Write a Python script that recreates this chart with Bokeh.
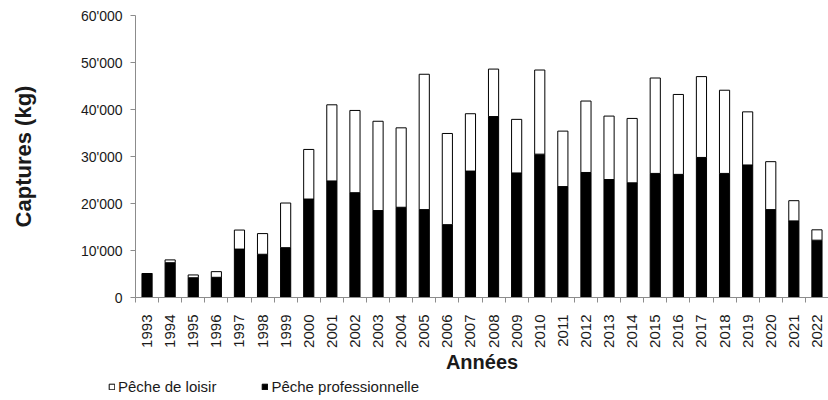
from bokeh.plotting import figure
from bokeh.layouts import column, row
from bokeh.models import (ColumnDataSource, Range1d, FixedTicker, CustomJSTickFormatter,
                          Legend, LegendItem)
from bokeh.embed import file_html
from bokeh.resources import INLINE
import math

years = [str(y) for y in range(1993, 2023)]
peche_pro = [5100, 7400, 4200, 4300, 10300, 9200, 10600, 20950, 24800, 22300,
             18500, 19200, 18700, 15500, 26900, 38500, 26500, 30500, 23600, 26600,
             25100, 24400, 26400, 26200, 29800, 26400, 28200, 18700, 16300, 12200]
peche_loisir = [0, 600, 600, 1200, 4050, 4400, 9500, 10550, 16200, 17500,
                19000, 16900, 28800, 19400, 12200, 10100, 11400, 17900, 11800, 15200,
                13500, 13700, 20300, 17000, 17200, 17700, 11300, 10200, 4300, 2200]
y_ticks = [0, 10000, 20000, 30000, 40000, 50000, 60000]
series_labels = ["Pêche de loisir", "Pêche professionnelle"]

n = len(years)
xpos = [i + 0.5 for i in range(n)]          # category centres
bounds = [float(i) for i in range(n + 1)]    # category boundaries (tick marks)

src = ColumnDataSource(dict(x=xpos, year=years, pro=peche_pro, loisir=peche_loisir))

FONT = "Liberation Sans"
TXT = "#1a1a1a"
AX = "#8c8c8c"
W = 828
H_MAIN = 375
H_LEG = 25

p = figure(width=W, height=H_MAIN, x_range=Range1d(0, n), y_range=Range1d(0, 60000),
           output_backend="svg", toolbar_location=None,
           min_border_left=135, min_border_top=15, min_border_right=0, min_border_bottom=75)
p.grid.visible = False
p.outline_line_color = None

rs = p.vbar_stack(["pro", "loisir"], x="x", width=0.44, source=src,
                  fill_color=["black", "white"], line_color="black", line_width=1)

# y axis
ya = p.yaxis[0]
ya.ticker = FixedTicker(ticks=y_ticks)
ya.formatter = CustomJSTickFormatter(code="""
const s = Math.round(tick).toString();
return s.replace(/\\B(?=(\\d{3})+(?!\\d))/g, "'");
""")
ya.axis_line_color = AX
ya.major_tick_line_color = AX
ya.major_tick_in = 0
ya.major_tick_out = 5
ya.minor_tick_line_color = None
ya.major_label_text_font = FONT
ya.major_label_text_font_size = "14px"
ya.major_label_text_color = TXT
ya.major_label_standoff = 8
ya.axis_label = "Captures (kg)"
ya.axis_label_text_font = FONT
ya.axis_label_text_font_size = "22px"
ya.axis_label_text_font_style = "bold"
ya.axis_label_text_color = TXT
ya.axis_label_standoff = 42

# x axis: labels at centres, tick marks at boundaries (minor ticks)
xa = p.xaxis[0]
xa.ticker = FixedTicker(ticks=xpos, minor_ticks=bounds)
xa.major_label_overrides = {x: y for x, y in zip(xpos, years)}
xa.axis_line_color = AX
xa.major_tick_line_color = None
xa.major_tick_in = 0
xa.major_tick_out = 0
xa.minor_tick_line_color = AX
xa.minor_tick_in = 0
xa.minor_tick_out = 5
xa.major_label_orientation = math.pi / 2
xa.major_label_text_font = FONT
xa.major_label_text_font_size = "15px"
xa.major_label_text_color = TXT
xa.major_label_standoff = 12
xa.axis_label = "Années"
xa.axis_label_text_font = FONT
xa.axis_label_text_font_size = "20px"
xa.axis_label_text_font_style = "bold"
xa.axis_label_text_color = TXT
xa.axis_label_standoff = 0

# legend strip below the chart
pl = figure(width=W, height=H_LEG, x_range=Range1d(0, 1), y_range=Range1d(0, 1),
            output_backend="svg", toolbar_location=None,
            x_axis_location=None, y_axis_location=None,
            min_border=0, min_border_left=0, min_border_right=0,
            min_border_top=0, min_border_bottom=0)
pl.grid.visible = False
pl.outline_line_color = None
# legend proxies (one off-screen entry each, so the legend keys are drawn)
g_loisir = pl.vbar(x=[-5], top=[0], width=0.1, fill_color="white", line_color="black", line_width=1)
g_pro = pl.vbar(x=[-5], top=[0], width=0.1, fill_color="black", line_color="black", line_width=1)

legend = Legend(items=[LegendItem(label=series_labels[0], renderers=[g_loisir]),
                       LegendItem(label=series_labels[1], renderers=[g_pro])],
                orientation="horizontal", location=(108, 5),
                border_line_color=None, background_fill_alpha=0, padding=0, margin=0,
                glyph_width=7, glyph_height=7, label_standoff=3, spacing=45,
                label_height=16,
                label_text_font=FONT, label_text_font_size="15px", label_text_color=TXT)
pl.add_layout(legend)

layout = column(p, row(pl, spacing=0), spacing=0)
open("out.html", "w").write(file_html(layout, INLINE))
